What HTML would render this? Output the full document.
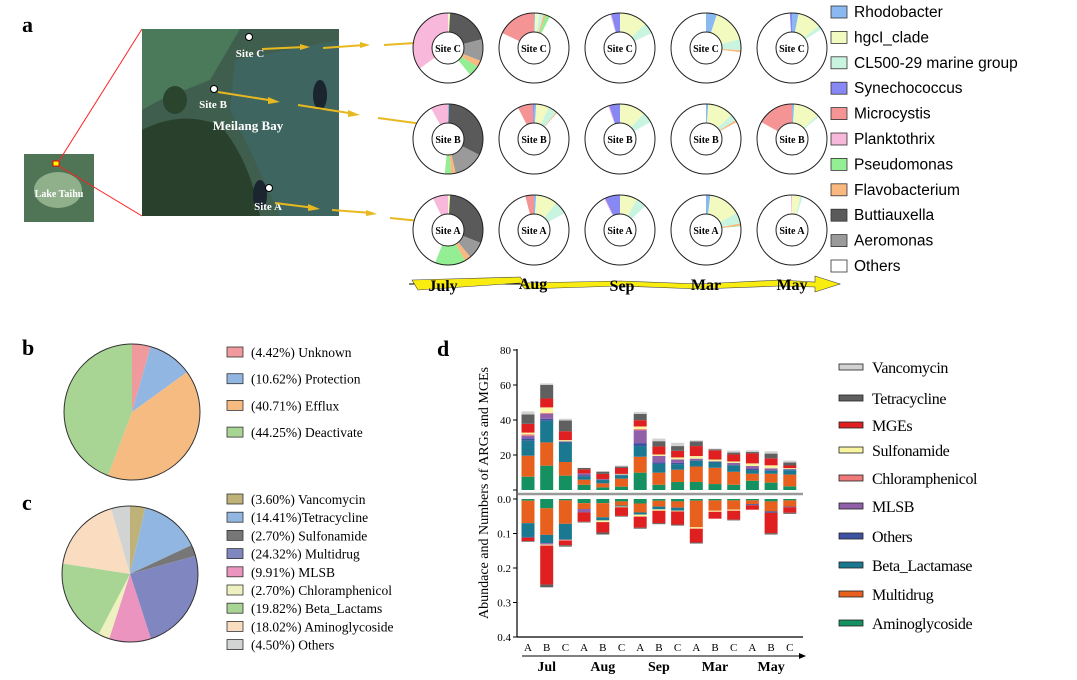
<!DOCTYPE html>
<html><head><meta charset="utf-8"><style>
html,body{margin:0;padding:0;background:#fff;}
svg{display:block;font-family:"Liberation Serif",serif;}
</style></head><body>
<svg id="fig" width="1077" height="680" viewBox="0 0 1077 680">
<g id="panelA">
 <text x="22" y="32" font-size="22" font-weight="bold">a</text>
 <g>
  <rect x="24" y="154" width="70" height="68" fill="#4f7456"/>
  <ellipse cx="58" cy="190" rx="24" ry="18" fill="#8fb08a"/>
  <rect x="53" y="161" width="6" height="5" fill="#ff0" stroke="#e00" stroke-width="1"/>
  <text x="59" y="197" font-size="10" font-weight="bold" fill="#fff" text-anchor="middle">Lake Taihu</text>
 </g>
 <line x1="59" y1="161" x2="142" y2="29" stroke="#f22" stroke-width="1"/>
 <line x1="59" y1="166" x2="142" y2="216" stroke="#f22" stroke-width="1"/>
 <g>
  <rect x="142" y="29" width="197" height="187" fill="#3f5e4e"/>
  <path d="M142 29 H240 L210 80 L160 100 L142 110Z" fill="#4a7a5a"/>
  <path d="M235 60 L339 40 V216 L280 216 L250 150 L230 110Z" fill="#3e6560"/>
  <path d="M142 130 Q180 110 220 125 Q250 160 260 216 H142Z" fill="#28402c"/>
  <ellipse cx="175" cy="100" rx="12" ry="14" fill="#2a442e"/>
  <ellipse cx="260" cy="195" rx="7" ry="15" fill="#1a2530"/>
  <ellipse cx="320" cy="95" rx="7" ry="15" fill="#1a2530"/>
  <text x="250" y="57" font-size="11" font-weight="bold" fill="#fff" text-anchor="middle">Site C</text>
  <text x="213" y="108" font-size="11" font-weight="bold" fill="#fff" text-anchor="middle">Site B</text>
  <text x="248" y="130" font-size="13" font-weight="bold" fill="#fff" text-anchor="middle">Meilang Bay</text>
  <text x="268" y="210" font-size="11" font-weight="bold" fill="#fff" text-anchor="middle">Site A</text>
  <circle cx="249" cy="37" r="3.5" fill="#fff" stroke="#000" stroke-width="1"/>
  <circle cx="214" cy="89" r="3.5" fill="#fff" stroke="#000" stroke-width="1"/>
  <circle cx="269" cy="188" r="3.5" fill="#fff" stroke="#000" stroke-width="1"/>
 </g>
 <g stroke="#e8b820" stroke-width="2" fill="#e8b820">
  <line x1="262" y1="49" x2="305" y2="47"/><polygon points="300,44 310,47 300,50" stroke="none"/>
  <line x1="323" y1="48" x2="365" y2="45"/><polygon points="360,42 370,45 360,48" stroke="none"/>
  <line x1="384" y1="45" x2="430" y2="42"/><polygon points="425,39 435,42 425,45" stroke="none"/>
  <line x1="218" y1="92" x2="275" y2="101"/><polygon points="268,97 280,102 268,104" stroke="none"/>
  <line x1="298" y1="105" x2="355" y2="114"/><polygon points="348,110 360,115 348,117" stroke="none"/>
  <line x1="378" y1="118" x2="430" y2="125"/><polygon points="424,121 435,126 424,128" stroke="none"/>
  <line x1="275" y1="203" x2="315" y2="208"/><polygon points="308,204 320,209 308,211" stroke="none"/>
  <line x1="332" y1="210" x2="372" y2="213"/><polygon points="366,210 377,214 366,216" stroke="none"/>
  <line x1="390" y1="218" x2="430" y2="222"/><polygon points="424,219 435,223 424,225" stroke="none"/>
 </g>
 <g id="donuts"></g>
 <g>
  <line x1="409" y1="284" x2="840" y2="284" stroke="#000" stroke-width="1"/>
  <path d="M412 280 L520 277 L525 283 L620 281 L700 284 L780 280 L815 282 L815 276 L840 284 L815 292 L815 287 L780 286 L700 289 L620 286 L525 289 L520 283 L418 290Z" fill="#f8ec10" stroke="#444" stroke-width="0.6"/>
  <g font-size="16" font-weight="bold" text-anchor="middle">
   <text x="443" y="291">July</text>
   <text x="533" y="289">Aug</text>
   <text x="622" y="291">Sep</text>
   <text x="706" y="290">Mar</text>
   <text x="792" y="290">May</text>
  </g>
 </g>
 <g id="legA"></g>
</g>
<g id="panelB">
 <text x="22" y="355" font-size="22" font-weight="bold">b</text>
</g>
<g id="panelC">
 <text x="22" y="510" font-size="22" font-weight="bold">c</text>
</g>
<g id="panelD">
 <text x="437" y="356" font-size="22" font-weight="bold">d</text>
 <text transform="translate(488,493) rotate(-90)" font-size="14" text-anchor="middle">Abundace and Numbers of ARGs and MGEs</text>
</g>
</svg>
<script>
const NS='http://www.w3.org/2000/svg';
function mk(tag,attrs,parent){const e=document.createElementNS(NS,tag);for(const k in attrs)e.setAttribute(k,attrs[k]);if(parent)parent.appendChild(e);return e;}
function arcPath(cx,cy,ro,ri,a0,a1){
 const p=(r,a)=>[cx+r*Math.sin(a),cy-r*Math.cos(a)];const lg=(a1-a0)>Math.PI?1:0;
 const [x0,y0]=p(ro,a0),[x1,y1]=p(ro,a1);
 if(ri<=0)return `M${cx} ${cy}L${x0} ${y0}A${ro} ${ro} 0 ${lg} 1 ${x1} ${y1}Z`;
 const [x2,y2]=p(ri,a1),[x3,y3]=p(ri,a0);
 return `M${x0} ${y0}A${ro} ${ro} 0 ${lg} 1 ${x1} ${y1}L${x2} ${y2}A${ri} ${ri} 0 ${lg} 0 ${x3} ${y3}Z`;
}

// ---------- Panel a data ----------
const genera=['Rhodobacter','hgcI_clade','CL500-29 marine group','Synechococcus','Microcystis','Planktothrix','Pseudomonas','Flavobacterium','Buttiauxella','Aeromonas','Others'];
const genusColors=['#8ab8f0','#f2fac0','#c8f4e0','#8888f4','#f49494','#f8b8dc','#94ee94','#f8b880','#5a5a5a','#9a9a9a','#ffffff'];
// clockwise drawing order of genus indices
const sliceOrder=[0,1,2,8,9,7,6,10,5,4,3];
const months=['July','Aug','Sep','Mar','May'];
const sites=['Site C','Site B','Site A'];
// fractions [Rhodo,hgcI,CL500,Syn,Micro,Plankt,Pseudo,Flavo,Butt,Aero] (Others = remainder)
const donutJulyC=[0,0.01,0,0,0,0.35,0.05,0.03,0.20,0.10];
const donutJulyB=[0.005,0,0,0,0,0.08,0.03,0.02,0.32,0.14];
const donutJulyA=[0,0.01,0,0,0,0.07,0.14,0.03,0.30,0.08];
const donutAugC=[0.005,0.02,0.02,0,0.18,0,0.02,0.01,0,0];
const donutAugB=[0.01,0.06,0.04,0.005,0.07,0,0,0.005,0,0];
const donutAugA=[0.01,0.10,0.06,0,0.04,0,0,0,0,0];
const donutSepC=[0,0.13,0.05,0.04,0,0.005,0,0,0,0];
const donutSepB=[0,0.12,0.05,0.05,0,0.005,0,0,0,0];
const donutSepA=[0,0.08,0.05,0.07,0,0.005,0,0,0,0];
const donutMarC=[0.05,0.16,0.05,0,0,0,0,0.01,0,0];
const donutMarB=[0.01,0.12,0.03,0,0,0,0,0.01,0,0];
const donutMarA=[0.02,0.15,0.05,0,0,0,0.003,0.01,0,0];
const donutMayC=[0.03,0.11,0.02,0.01,0,0,0,0,0,0];
const donutMayB=[0.01,0.12,0.01,0,0.17,0,0,0,0,0];
const donutMayA=[0,0.04,0.01,0,0,0.005,0,0,0,0];
const donutData=[[donutJulyC,donutJulyB,donutJulyA],[donutAugC,donutAugB,donutAugA],[donutSepC,donutSepB,donutSepA],[donutMarC,donutMarB,donutMarA],[donutMayC,donutMayB,donutMayA]];
const colX=m=>448+m*86;
const rowY=s=>48+s*91;
(function(){
 const g=document.getElementById('donuts');
 donutData.forEach((col,m)=>col.forEach((vals,s)=>{
  const cx=colX(m),cy=rowY(s);
  const dg=mk('g',{},g);
  
  
  const full=vals.concat([Math.max(0,1-vals.reduce((a,b)=>a+b,0))]);
  let a=0;
  sliceOrder.forEach(i=>{const v=full[i];if(v<=0)return;const a1=a+v*2*Math.PI;
   const p=mk('path',{d:arcPath(cx,cy,35,16,a,Math.min(a1,2*Math.PI-1e-6)),fill:genusColors[i]},dg);
   
   a=a1;});
  mk('circle',{cx,cy,r:35,fill:'none',stroke:'#222','stroke-width':1},dg);
  mk('circle',{cx,cy,r:16,fill:'none',stroke:'#222','stroke-width':1},dg);
  const t=mk('text',{x:cx,y:cy+4,'font-size':10,'font-weight':'bold','text-anchor':'middle'},dg);t.textContent=sites[s];
  
  
 }));
 const lg=document.getElementById('legA');
 genera.forEach((n,i)=>{const y=12+i*25.4;
  const r=mk('rect',{x:831,y:y-6,width:16,height:12,fill:genusColors[i],stroke:'#333','stroke-width':0.8},lg);
  
  
  const t=mk('text',{x:854,y:y+5,'font-size':15.5,'font-family':'Liberation Sans, sans-serif','textLength':0},lg);
  t.removeAttribute('textLength');t.textContent=n;
  
  
 });
})();

// ---------- Panel b/c data ----------
const mechLabels=['(4.42%) Unknown','(10.62%) Protection','(40.71%) Efflux','(44.25%) Deactivate'];
const mechValues=[4.42,10.62,40.71,44.25];
const mechColors=['#f09a9e','#92b6e2','#f6bb80','#a8d494'];
const classLabels=['(3.60%) Vancomycin','(14.41%)Tetracycline','(2.70%) Sulfonamide','(24.32%) Multidrug','(9.91%) MLSB','(2.70%) Chloramphenicol','(19.82%) Beta_Lactams','(18.02%) Aminoglycoside','(4.50%) Others'];
const classValues=[3.60,14.41,2.70,24.32,9.91,2.70,19.82,18.02,4.50];
const classColors=['#bfb278','#92b6e2','#777777','#8087c0','#ea94bf','#eef0c0','#a8d494','#fadcc0','#d2d4d4'];
function pie(gid,vals,cols,labels,cx,cy,r,ly,lstep,name){
 const g=document.getElementById(gid);let a=0;const tot=vals.reduce((x,y)=>x+y,0);
 vals.forEach((v,i)=>{const a1=a+v/tot*2*Math.PI;
  const p=mk('path',{d:arcPath(cx,cy,r,0,a,a1),fill:cols[i]},g);
  
  a=a1;});
 mk('circle',{cx,cy,r,fill:'none',stroke:'#333','stroke-width':1},g);
 labels.forEach((l,i)=>{const y=ly+i*lstep;
  const s=mk('rect',{x:227,y:y-5,width:16,height:10,fill:cols[i],stroke:'#333','stroke-width':0.8},g);
  
  
  const t=mk('text',{x:251,y:y+5,'font-size':13.5},g);t.textContent=l;
  
  });
}
pie('panelB',mechValues,mechColors,mechLabels,132,412,68,352,26.7,'mechanism');
pie('panelC',classValues,classColors,classLabels,130,574,68,499,18.2,'arg-class');

// ---------- Panel d data ----------
const barCats=['A','B','C','A','B','C','A','B','C','A','B','C','A','B','C'];
const barMonths=['Jul','Aug','Sep','Mar','May'];
const argTypes=['Aminoglycoside','Multidrug','Beta_Lactamase','Others','MLSB','Chloramphenicol','Sulfonamide','MGEs','Tetracycline','Vancomycin'];
const argColors=['#159060','#e8601e','#1a7890','#3d52a0','#9060a8','#f07a7a','#f8f4a0','#e02020','#606060','#d2d2d2'];
// numbers (upper stacks), per bar in argTypes order
const numJulA=[7.6,12,8.6,1.3,1.5,0.8,1,5,5.4,1.7];
const numJulB=[13.9,13.3,12.4,1.1,2.9,0.4,3.2,5.1,7.8,0.8];
const numJulC=[8.2,7.8,10.9,0.8,0,0,0.8,5.1,6.1,1];
const numAugA=[3,2.9,1.9,0.5,1.2,0,0,2.3,0.8,0];
const numAugB=[1.5,2.3,1.9,0.4,0,0.2,0,2.9,1.3,0];
const numAugC=[1.9,4.6,1.9,0.4,0,0,0.4,3.4,0.8,0.6];
const numSepA=[9.9,9.1,6.1,1.7,7.4,0.6,1.5,3.6,3.6,1.1];
const numSepB=[3,6.9,5,1,3.6,0,0.8,4.6,3,1.5];
const numSepC=[4.6,7,3.2,0.8,1.9,0,1.1,3.8,2.7,1.9];
const numMarA=[4.6,8.8,3.4,0,1.1,0,1.5,5.7,2.7,0.6];
const numMarB=[3.4,9.3,3,0.6,0,0,1.1,5.3,0.6,0.4];
const numMarC=[3,7.4,3.8,0,1.3,0,0.8,4,1.1,1.1];
const numMayA=[5.3,4,2.1,0.6,1.7,0,1.5,5.7,0.8,1];
const numMayB=[4.2,5.1,1.7,0.4,1,0,1.7,4,2.7,1.3];
const numMayC=[2.1,6.7,2.5,0.6,0,0,0.6,1.5,1.7,1.1];
const numbers=[numJulA,numJulB,numJulC,numAugA,numAugB,numAugC,numSepA,numSepB,numSepC,numMarA,numMarB,numMarC,numMayA,numMayB,numMayC];
// abundance (lower stacks)
const abJulA=[0.005,0.065,0.04,0.002,0,0,0,0.01,0.002,0];
const abJulB=[0.027,0.077,0.024,0,0.004,0,0.003,0.113,0.008,0];
const abJulC=[0.004,0.068,0.046,0,0,0.003,0,0.013,0.004,0];
const abAugA=[0.012,0.017,0,0,0.01,0,0,0.027,0.002,0];
const abAugB=[0.012,0.041,0.009,0,0,0,0.005,0.03,0.006,0];
const abAugC=[0.007,0.012,0.003,0,0,0,0.002,0.025,0.002,0];
const abSepA=[0.013,0.026,0.006,0,0,0,0.006,0.032,0.003,0];
const abSepB=[0.005,0.017,0.008,0,0,0,0.004,0.036,0.003,0];
const abSepC=[0.007,0.018,0.009,0,0,0,0.002,0.038,0.003,0];
const abMarA=[0.005,0.077,0,0,0,0,0.004,0.04,0.003,0];
const abMarB=[0.004,0.03,0,0,0,0,0.003,0.02,0,0];
const abMarC=[0.004,0.027,0,0,0,0,0.003,0.026,0.002,0];
const abMayA=[0.004,0.011,0,0.003,0,0,0,0.013,0,0];
const abMayB=[0.007,0.029,0,0.004,0,0,0,0.059,0.004,0];
const abMayC=[0.004,0.018,0,0.002,0,0,0,0.016,0.003,0];
const abundance=[abJulA,abJulB,abJulC,abAugA,abAugB,abAugC,abSepA,abSepB,abSepC,abMarA,abMarB,abMarC,abMayA,abMayB,abMayC];
const upperTicks=[0,20,40,60,80];
const lowerTicks=[0.0,0.1,0.2,0.3,0.4];
const lowerTickLabels=['0.0','0.1','0.2','0.3','0.4'];

(function(){
 const g=document.getElementById('panelD');
 const yU=v=>490-v*1.75, yL=v=>499+v*345, xB=i=>528+i*18.7, bw=13;
 numbers.forEach((vals,i)=>{let c=0;vals.forEach((v,k)=>{if(v<=0)return;
  const r=mk('rect',{x:xB(i)-bw/2,y:yU(c+v),width:bw,height:yU(c)-yU(c+v),fill:argColors[k]},g);
  
  c+=v;});});
 abundance.forEach((vals,i)=>{let c=0;vals.forEach((v,k)=>{if(v<=0)return;
  const r=mk('rect',{x:xB(i)-bw/2,y:yL(c),width:bw,height:yL(c+v)-yL(c),fill:argColors[k]},g);
  
  c+=v;});});
 mk('line',{x1:518,y1:494,x2:803,y2:494,stroke:'#999','stroke-width':2.5},g);
 mk('line',{x1:517,y1:349,x2:517,y2:637,stroke:'#000','stroke-width':1.2},g);
 upperTicks.forEach(t=>{mk('line',{x1:513,y1:yU(t),x2:517,y2:yU(t),stroke:'#000'},g);
  if(t>0){const tx=mk('text',{x:511,y:yU(t)+4,'font-size':11,'text-anchor':'end'},g);tx.textContent=t;
  
  }});
 lowerTicks.forEach((t,i)=>{mk('line',{x1:513,y1:yL(t),x2:517,y2:yL(t),stroke:'#000'},g);
  const tx=mk('text',{x:511,y:yL(t)+4,'font-size':11,'text-anchor':'end'},g);tx.textContent=lowerTickLabels[i];
  
  });
 mk('line',{x1:517,y1:637,x2:803,y2:637,stroke:'#000','stroke-width':1.2},g);
 barCats.forEach((c,i)=>{const tx=mk('text',{x:xB(i),y:651,'font-size':11,'text-anchor':'middle'},g);tx.textContent=c;
  
  });
 mk('line',{x1:522,y1:656,x2:800,y2:656,stroke:'#000','stroke-width':1},g);
 mk('polygon',{points:'799,653 806,656 799,659',fill:'#000'},g);
 barMonths.forEach((m,j)=>{const tx=mk('text',{x:xB(j*3+1),y:671,'font-size':14,'font-weight':'bold','text-anchor':'middle'},g);tx.textContent=m;
  
  });
 const legOrder=[9,8,7,6,5,4,3,2,1,0];
 const legY=[367,398,425,450,478,506,536,565,594,623];
 legOrder.forEach((k,i)=>{
  const r=mk('rect',{x:839,y:legY[i]-3,width:24,height:6,fill:argColors[k],stroke:'#222','stroke-width':0.8},g);
  
  
  const t=mk('text',{x:872,y:legY[i]+6,'font-size':16,'letter-spacing':'-0.4'},g);t.textContent=argTypes[k];
  
  });
})();
</script>
</body></html>
